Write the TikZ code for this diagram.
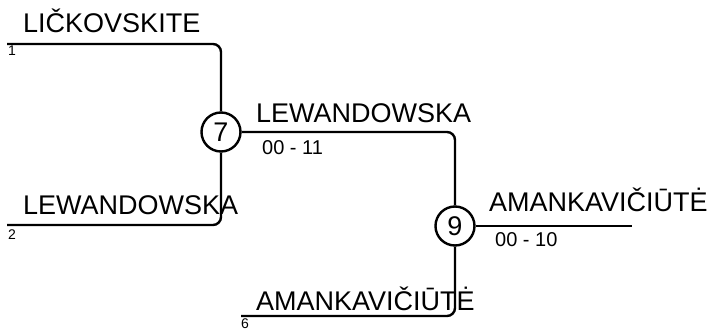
\documentclass[tikz,border=0pt]{standalone}
\usepackage{fontspec}
\setmainfont{Liberation Sans}
\usepackage{tikz}

\begin{document}
\begin{tikzpicture}[x=1pt, y=-1pt, line width=2.4pt, match node/.style={circle, draw, minimum size=39pt, inner sep=0pt, font=\fontsize{27}{27}\selectfont}, name node/.style={anchor=base west, inner sep=0pt, font=\fontsize{27}{27}\selectfont}, score node/.style={anchor=base west, inner sep=0pt, font=\fontsize{20}{20}\selectfont}, seed node/.style={anchor=base west, inner sep=0pt, font=\fontsize{14}{14}\selectfont}, bracket/.style={rounded corners=8pt, to path={-| (\tikztotarget)}}]
\useasboundingbox (0,0) rectangle (710,331);
\node[match node] (7) at (221,132) {7};
\node[match node] (9) at (455,226) {9};
\coordinate (s1) at (7,44);
\coordinate (s2) at (7,225);
\coordinate (s6) at (241,316);
\coordinate (w) at (632,226);
\node[name node] (n1) at (22,33) {LIČKOVSKITE};
\node[name node] (n2) at (22,215) {LEWANDOWSKA};
\node[name node] (n7) at (255,123) {LEWANDOWSKA};
\node[name node] (n9) at (488,212) {AMANKAVIČIŪTĖ};
\node[name node] (n6) at (255,310) {AMANKAVIČIŪTĖ};
\node[score node] (r7) at (261,155) {00 - 11};
\node[score node] (r9) at (494,247) {00 - 10};
\node[seed node] (d1) at (7,56) {1};
\node[seed node] (d2) at (7,240) {2};
\node[seed node] (d6) at (240,329) {6};
\path
(s1) edge[bracket] (7)
(s2) edge[bracket] (7)
(7) edge[bracket] (9)
(s6) edge[bracket] (9)
(9) edge (w);
\end{tikzpicture}
\end{document}
